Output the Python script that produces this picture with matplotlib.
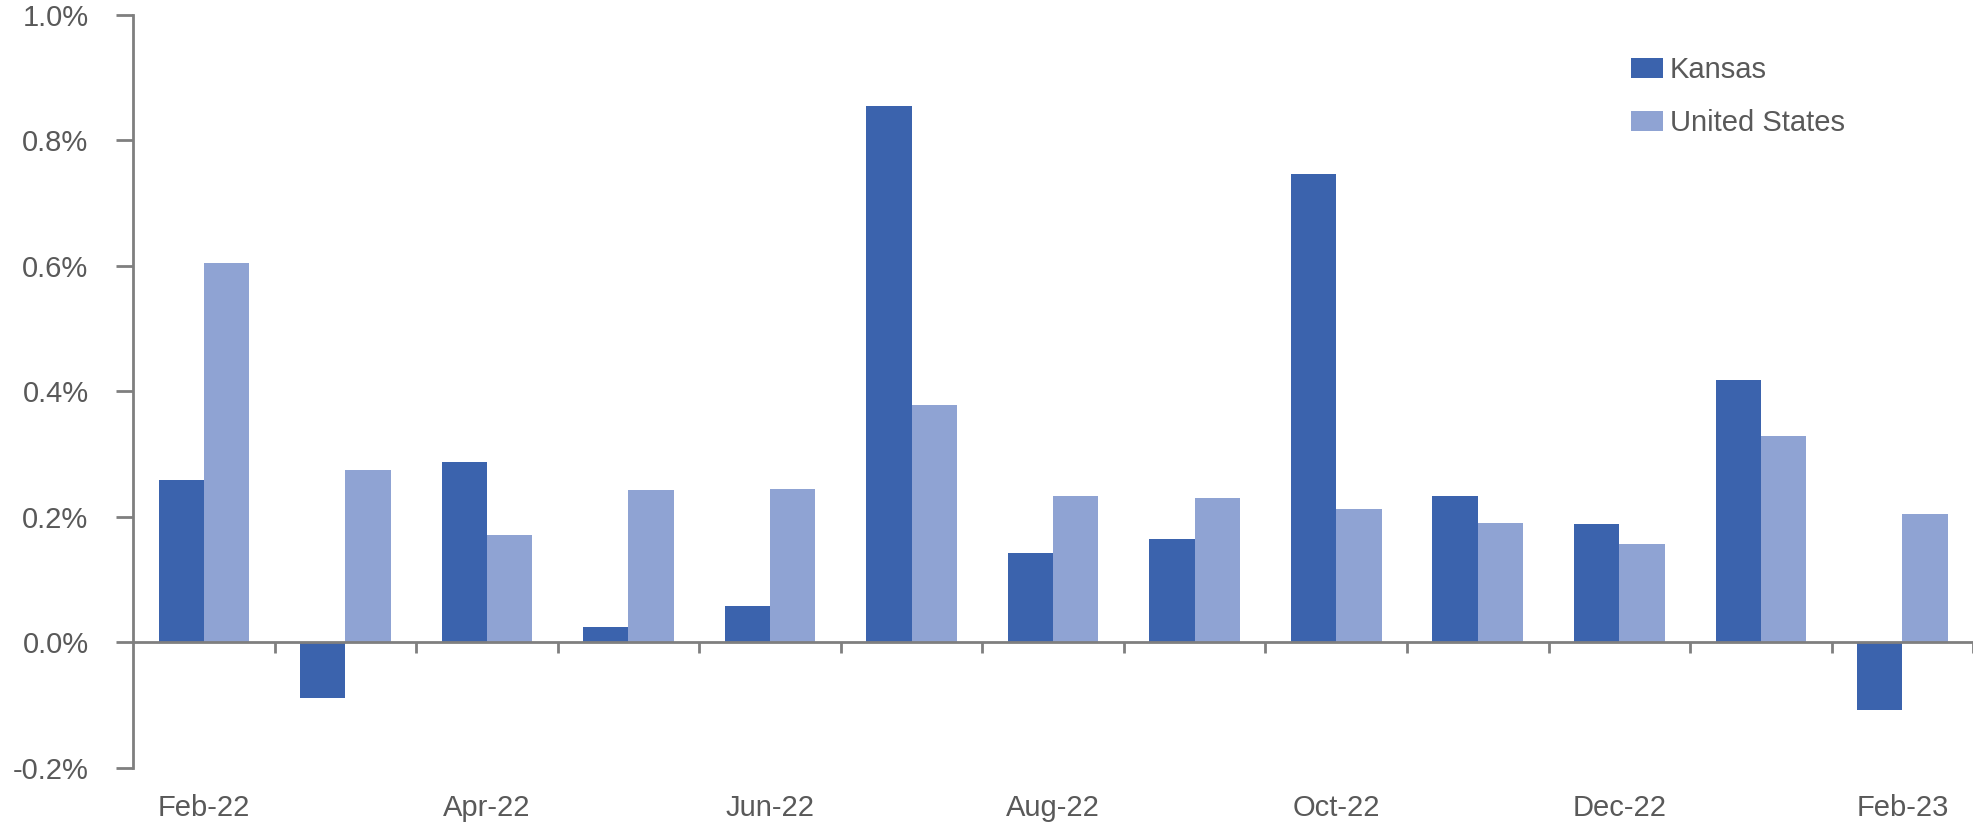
import matplotlib.pyplot as plt
import numpy as np
from matplotlib.ticker import FuncFormatter
import matplotlib.transforms as mtransforms

plt.rcParams['font.family'] = ['Liberation Sans', 'DejaVu Sans']

months = ['Feb-22', 'Mar-22', 'Apr-22', 'May-22', 'Jun-22', 'Jul-22', 'Aug-22',
          'Sep-22', 'Oct-22', 'Nov-22', 'Dec-22', 'Jan-23', 'Feb-23']
kansas = [0.259, -0.088, 0.287, 0.024, 0.058, 0.855, 0.143,
          0.165, 0.747, 0.233, 0.189, 0.418, -0.108]
united_states = [0.604, 0.275, 0.171, 0.243, 0.245, 0.378, 0.233,
                 0.231, 0.213, 0.191, 0.157, 0.329, 0.205]

text_color = '#595959'
axis_color = '#7f7f7f'
kansas_color = '#3b63ad'
us_color = '#8fa3d3'
fs = 21

fig = plt.figure(figsize=(19.74, 8.24), dpi=100)
ax = fig.add_axes([0.0674, 0.068, 0.9322, 0.9138])

x = np.arange(len(months))
w = 0.32
ax.bar(x - w / 2, kansas, width=w, color=kansas_color, label='Kansas', zorder=2)
ax.bar(x + w / 2, united_states, width=w, color=us_color, label='United States', zorder=2)

ax.set_xlim(-0.5, len(months) - 0.5)
ax.set_ylim(-0.2, 1.0)
ax.set_yticks(np.arange(-0.2, 1.01, 0.2))
ax.yaxis.set_major_formatter(FuncFormatter(lambda v, p: f'{v:.1f}%'))

for side in ['top', 'right']:
    ax.spines[side].set_visible(False)
ax.spines['bottom'].set_position(('data', 0))
for side in ['left', 'bottom']:
    ax.spines[side].set_color(axis_color)
    ax.spines[side].set_linewidth(2)
    ax.spines[side].set_zorder(3)

# tick marks sit between the month groups, labels every other month
ax.set_xticks(np.arange(0.5, len(months), 1.0))
ax.set_xticklabels([])
ax.tick_params(axis='x', direction='out', length=8, width=2, color=axis_color)
ax.tick_params(axis='y', direction='out', length=12, width=2, color=axis_color,
               labelsize=fs, labelcolor=text_color, pad=20)

trans = mtransforms.blended_transform_factory(ax.transData, ax.transAxes)
for i in range(0, len(months), 2):
    ax.text(x[i], -0.035, months[i], transform=trans, ha='center', va='top',
            fontsize=fs, color=text_color)

ax.legend(loc='upper left', bbox_to_anchor=(0.813, 0.964), bbox_transform=fig.transFigure,
          frameon=False, fontsize=fs, labelcolor=text_color,
          handlelength=1.08, handleheight=0.68, handletextpad=0.25, labelspacing=0.87)

fig.savefig('out.png', dpi=100)
